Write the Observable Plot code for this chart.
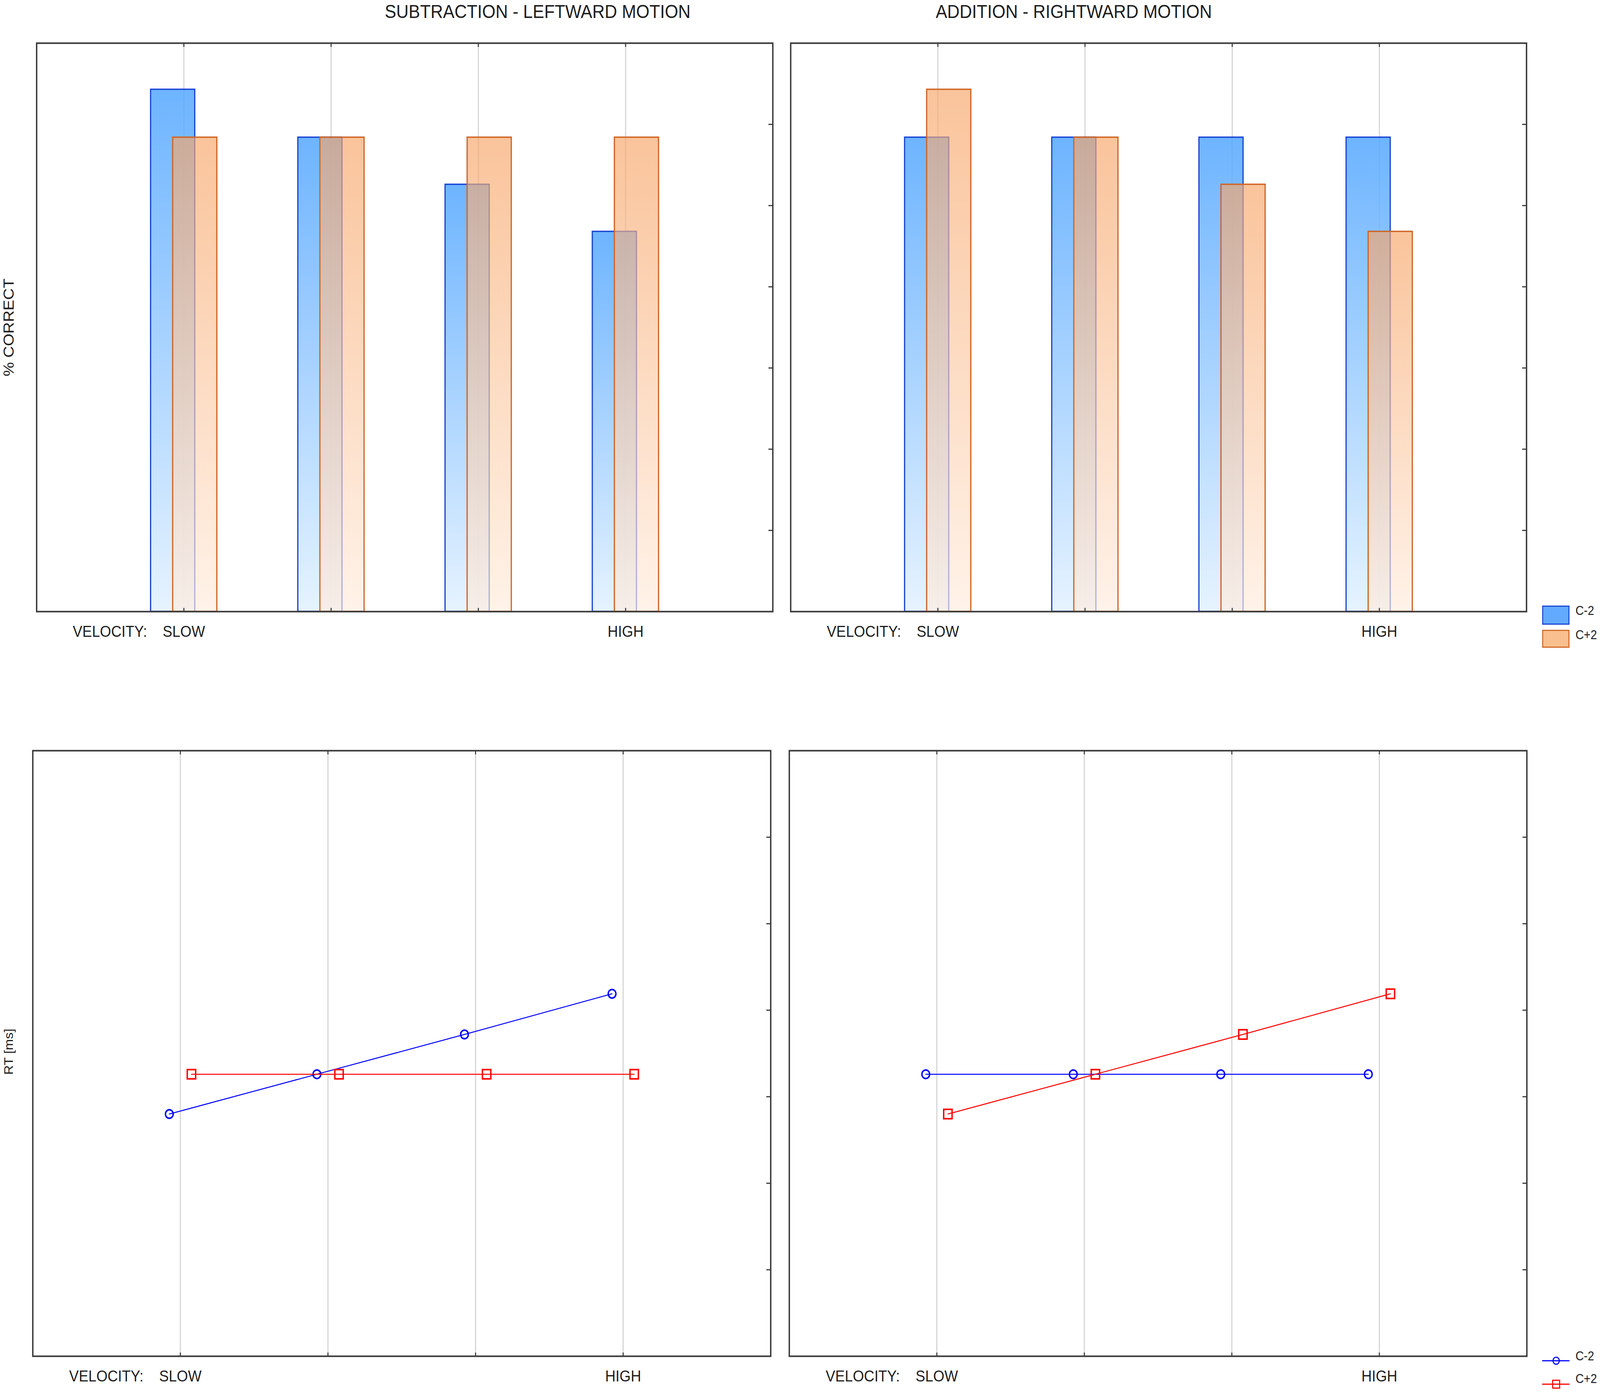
<!DOCTYPE html>
<html><head><meta charset="utf-8">
<script src="https://cdn.jsdelivr.net/npm/d3@7"></script>
<script src="https://cdn.jsdelivr.net/npm/@observablehq/plot@0.6"></script>
<style>
html,body{margin:0;padding:0;background:#fff;overflow:hidden;}
#wrap{position:relative;overflow:hidden;background:#fff;}
#root{position:absolute;left:0;top:0;width:4562px;height:3563px;background:#fff;overflow:hidden;transform-origin:0 0;font-family:"Liberation Sans",Arial,sans-serif;color:#1e1e1e;}
.abs{position:absolute;white-space:nowrap;line-height:1;}
</style></head><body>
<svg width="0" height="0" style="position:absolute">
  <defs>
    <linearGradient id="gradBlue" x1="0" y1="0" x2="0" y2="1">
      <stop offset="0" stop-color="rgb(84,167,255)"/>
      <stop offset="1" stop-color="rgb(226,241,255)"/>
    </linearGradient>
    <linearGradient id="gradOrange" x1="0" y1="0" x2="0" y2="1">
      <stop offset="0" stop-color="rgb(247,165,103)"/>
      <stop offset="1" stop-color="rgb(255,236,221)"/>
    </linearGradient>
  </defs>
</svg>
<div id="wrap"><div id="root"></div></div>
<script>
// ---------- data ----------
const velocityLevels = [1, 2, 3, 4];
const velocityTickLabels = ["SLOW", "", "", "HIGH"];
const seriesNames = ["C-2", "C+2"];
const yTicks = [1, 2, 3, 4, 5, 6];
const panelTitles = ["SUBTRACTION - LEFTWARD MOTION", "ADDITION - RIGHTWARD MOTION"];
const yTitles = ["% CORRECT", "RT [ms]"];

const subCorrectCm2 = [6.43, 5.84, 5.26, 4.68];
const subCorrectCp2 = [5.84, 5.84, 5.84, 5.84];
const addCorrectCm2 = [5.84, 5.84, 5.84, 5.84];
const addCorrectCp2 = [6.43, 5.84, 5.26, 4.68];

const subRtCm2 = [2.80, 3.26, 3.72, 4.19];
const subRtCp2 = [3.26, 3.26, 3.26, 3.26];
const addRtCm2 = [3.26, 3.26, 3.26, 3.26];
const addRtCp2 = [2.80, 3.26, 3.72, 4.19];

// ---------- helpers ----------
const dodge = {"C-2": -0.075, "C+2": 0.075};
const half = 0.15;
const rows = (values, series) => velocityLevels.map((v, i) => ({level: v, value: values[i], series}));
const root = document.getElementById("root");
const wrap = document.getElementById("wrap");
const axisColor = "#3a3a3a";
const textColor = "#1e1e1e";

// fill the 4562x3563 design into the viewport the page actually gets
const sx = (window.innerWidth / 4562) || 1;
const sy = (window.innerHeight / 3563) || 1;
root.style.transform = `scale(${sx}, ${sy})`;
wrap.style.width = (4562 * sx) + "px";
wrap.style.height = (3563 * sy) + "px";

function commonMarks(dataMarks) {
  return [
    Plot.gridX(velocityLevels, {stroke: "#d2d2d2", strokeOpacity: 1, strokeWidth: 3}),
    ...dataMarks,
    Plot.frame({stroke: axisColor, strokeWidth: 4}),
    Plot.axisY(yTicks, {anchor: "right", tickSize: 13, dx: -13, tickFormat: () => "", stroke: axisColor, strokeWidth: 3, label: null}),
    Plot.axisX(velocityLevels, {anchor: "top", tickSize: 9, dy: 9, tickFormat: () => "", stroke: axisColor, strokeWidth: 3, label: null}),
    Plot.axisX(velocityLevels, {anchor: "bottom", tickSize: 9, dy: -9, tickFormat: () => "", stroke: axisColor, strokeWidth: 3, label: null}),
    Plot.text(velocityLevels, {x: d => d, text: d => velocityTickLabels[d - 1], frameAnchor: "bottom", lineAnchor: "top", dy: 35, fontSize: 41, fill: textColor}),
    Plot.text(["VELOCITY:"], {x: () => velocityLevels[0] - 0.25, text: d => d, frameAnchor: "bottom", lineAnchor: "top", textAnchor: "end", dy: 35, fontSize: 41, fill: textColor})
  ];
}

function panel({left, right, top, bottom, marks}) {
  const m = {l: 20, r: 20, t: 20, b: 110};
  const svg = Plot.plot({
    width: (right - left) + m.l + m.r,
    height: (bottom - top) + m.t + m.b,
    marginLeft: m.l, marginRight: m.r, marginTop: m.t, marginBottom: m.b,
    x: {domain: [0, 5]},
    y: {domain: [0, 7]},
    style: {fontFamily: "Liberation Sans, Arial, sans-serif", fontSize: "41px", background: "transparent", color: textColor, overflow: "visible"},
    marks: commonMarks(marks)
  });
  svg.style.position = "absolute";
  svg.style.left = (left - m.l) + "px";
  svg.style.top = (top - m.t) + "px";
  root.appendChild(svg);
}

function barMarks(cm2, cp2) {
  const b = rows(cm2, seriesNames[0]);
  const o = rows(cp2, seriesNames[1]);
  return [
    Plot.rect(b, {x1: d => d.level + dodge[d.series] - half, x2: d => d.level + dodge[d.series] + half, y1: 0, y2: "value",
      fill: "url(#gradBlue)", fillOpacity: 0.85, stroke: "#1a46d6", strokeWidth: 3.5}),
    Plot.rect(o, {x1: d => d.level + dodge[d.series] - half, x2: d => d.level + dodge[d.series] + half, y1: 0, y2: "value",
      fill: "url(#gradOrange)", fillOpacity: 0.66, stroke: "#cf6526", strokeWidth: 3.5})
  ];
}

function lineMarks(cm2, cp2) {
  const b = rows(cm2, seriesNames[0]);
  const r = rows(cp2, seriesNames[1]);
  const x = d => d.level + dodge[d.series];
  return [
    Plot.line(b, {x, y: "value", stroke: "#0000ff", strokeWidth: 2.5}),
    Plot.dot(b, {x, y: "value", symbol: "circle", r: 11, stroke: "#0000ff", strokeWidth: 4, fill: "none"}),
    Plot.line(r, {x, y: "value", stroke: "#ff0000", strokeWidth: 2.5}),
    Plot.dot(r, {x, y: "value", symbol: "square", r: 13.5, stroke: "#ff0000", strokeWidth: 4, fill: "none"})
  ];
}

panel({left: 104, right: 2203, top: 110, bottom: 1565, marks: barMarks(subCorrectCm2, subCorrectCp2)});
panel({left: 2254, right: 4352, top: 110, bottom: 1565, marks: barMarks(addCorrectCm2, addCorrectCp2)});
panel({left: 93, right: 2197, top: 1921, bottom: 3471, marks: lineMarks(subRtCm2, subRtCp2)});
panel({left: 2250, right: 4353, top: 1921, bottom: 3471, marks: lineMarks(addRtCm2, addRtCp2)});

// ---------- titles and axis titles ----------
function addText(txt, css) {
  const d = document.createElement("div");
  d.className = "abs";
  d.textContent = txt;
  Object.assign(d.style, css);
  root.appendChild(d);
  return d;
}
addText(panelTitles[0], {left: "1097px", top: "5px", fontSize: "49px"});
addText(panelTitles[1], {left: "2668px", top: "5px", fontSize: "49px"});
addText(yTitles[0], {left: "26px", top: "838px", fontSize: "41px", transform: "translate(-50%,-50%) rotate(-90deg)"});
addText(yTitles[1], {left: "25px", top: "2692px", fontSize: "34px", transform: "translate(-50%,-50%) rotate(-90deg)"});

// ---------- legends ----------
const NS = "http://www.w3.org/2000/svg";
function swatchSvg(left, top, w, h, build) {
  const s = document.createElementNS(NS, "svg");
  s.setAttribute("width", w); s.setAttribute("height", h);
  s.style.position = "absolute"; s.style.left = left + "px"; s.style.top = top + "px"; s.style.overflow = "visible";
  build(s);
  root.appendChild(s);
}
function el(parent, tag, attrs) {
  const e = document.createElementNS(NS, tag);
  for (const k in attrs) e.setAttribute(k, attrs[k]);
  parent.appendChild(e);
  return e;
}
// bar legend
swatchSvg(4397, 1550, 78, 49, s => el(s, "rect", {x: 1.5, y: 1.5, width: 75, height: 46, fill: "#62aaff", stroke: "#1c48d4", "stroke-width": 3}));
swatchSvg(4397, 1612, 78, 46, s => el(s, "rect", {x: 1.5, y: 1.5, width: 75, height: 43, fill: "#f9bf8f", stroke: "#cf6a2a", "stroke-width": 3}));
addText(seriesNames[0], {left: "4492px", top: "1546px", fontSize: "33px"});
addText(seriesNames[1], {left: "4492px", top: "1608px", fontSize: "33px"});
// line legend
swatchSvg(4397, 3463, 78, 40, s => {
  el(s, "line", {x1: 0, x2: 78, y1: 20, y2: 20, stroke: "#0000ff", "stroke-width": 3});
  el(s, "circle", {cx: 40, cy: 20, r: 9, fill: "none", stroke: "#0000ff", "stroke-width": 3});
});
swatchSvg(4397, 3523, 78, 40, s => {
  el(s, "line", {x1: 0, x2: 78, y1: 20, y2: 20, stroke: "#ff0000", "stroke-width": 3});
  el(s, "rect", {x: 30, y: 10, width: 20, height: 20, fill: "none", stroke: "#ff0000", "stroke-width": 3});
});
addText(seriesNames[0], {left: "4492px", top: "3454px", fontSize: "33px"});
addText(seriesNames[1], {left: "4492px", top: "3512px", fontSize: "33px"});
</script>
</body></html>
